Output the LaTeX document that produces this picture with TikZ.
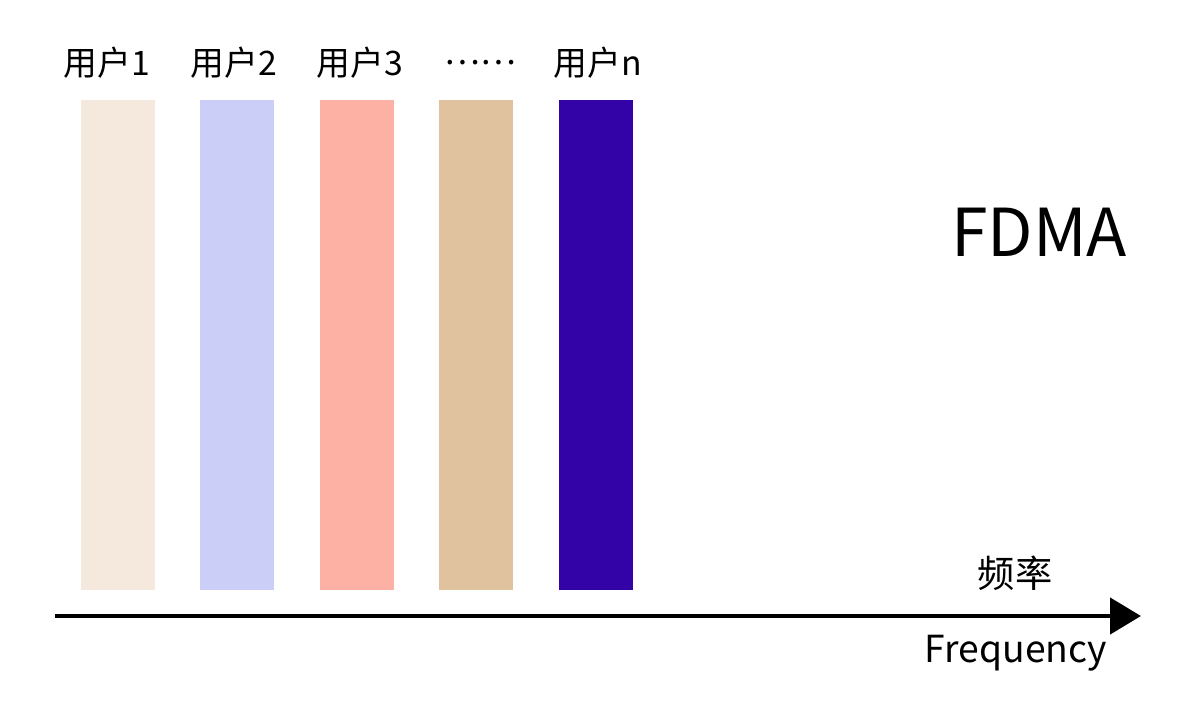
\documentclass[tikz,border=0pt]{standalone}
\usepackage{fontspec}
\newfontfamily\cjk{Noto Sans CJK SC}
\usetikzlibrary{arrows.meta}

\definecolor{bandA}{HTML}{F5E8DC}
\definecolor{bandB}{HTML}{CBCFF8}
\definecolor{bandC}{HTML}{FDB0A4}
\definecolor{bandD}{HTML}{E0C39E}
\definecolor{bandE}{HTML}{3303A8}

\begin{document}
\begin{tikzpicture}[
  x=0.025cm,
  y=-0.025cm,
  band/.style={
    rectangle,
    draw=none,
    minimum width=74*0.025cm,
    minimum height=490*0.025cm,
    inner sep=0pt
  },
  user/.style={
    font=\cjk\fontsize{24}{28}\selectfont,
    inner sep=0pt
  },
  axis/.style={
    line width=3.4pt,
    -{Triangle[length=22pt,width=25.5pt]}
  },
  axlbl/.style={
    font=\cjk\fontsize{26.5}{30}\selectfont,
    inner sep=0pt
  }
]

\useasboundingbox (0,0) rectangle (1192,712);

% =========================================================
% FREQUENCY BANDS
% =========================================================

\node[band, fill=bandA] (b1) at (118,345) {};
\node[band, fill=bandB] (b2) at (237,345) {};
\node[band, fill=bandC] (b3) at (357,345) {};
\node[band, fill=bandD] (b4) at (476,345) {};
\node[band, fill=bandE] (b5) at (596,345) {};

% --- user labels ---

\node[user] (u1) at (107,63) {用户1};
\node[user] (u2) at (234,63) {用户2};
\node[user] (u3) at (360,63) {用户3};
\node[user] (u4) at (480,63) {……};
\node[user] (un) at (598,63) {用户n};

% =========================================================
% TITLE
% =========================================================

\node[font=\cjk\fontsize{47}{52}\selectfont, inner sep=0pt]
  (title) at (1039,232) {FDMA};

% =========================================================
% FREQUENCY AXIS
% =========================================================

\coordinate (axstart) at (55,616);
\coordinate (axend) at (1141,616);

\draw[axis] (axstart) -- (axend);

\node[axlbl] (cn) at (1015,573) {频率};
\node[axlbl] (en) at (1016,653) {Frequency};

\end{tikzpicture}
\end{document}
